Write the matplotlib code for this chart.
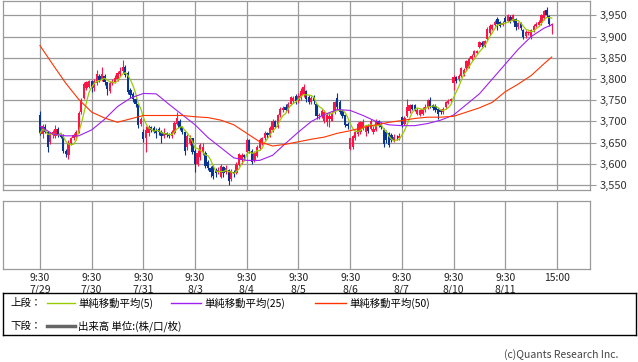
import numpy as np
import pandas as pd
import matplotlib
matplotlib.use("Agg")
import matplotlib.pyplot as plt
from matplotlib.ticker import FuncFormatter

plt.rcParams['font.family'] = ['Noto Sans CJK JP', 'DejaVu Sans']

# 15-minute candles, 20 per session, 7/29 9:30 .. 8/11 15:00
opens = [
    3715, 3670, 3688, 3676, 3652, 3668, 3665, 3683, 3668, 3668, 3630, 3620, 3648, 3660, 3664, 3676, 3722, 3755, 3780, 3782,
    3795, 3778, 3790, 3808, 3800, 3808, 3792, 3772, 3790, 3794, 3800, 3812, 3818, 3828, 3815, 3775, 3765, 3752, 3740, 3695,
    3675, 3660, 3672, 3688, 3684, 3680, 3682, 3676, 3665, 3672, 3668, 3665, 3672, 3695, 3700, 3686, 3676, 3640, 3650, 3660,
    3630, 3600, 3615, 3628, 3625, 3605, 3590, 3595, 3585, 3580, 3570, 3592, 3580, 3585, 3565, 3580, 3578, 3598, 3608, 3620,
    3628, 3655, 3630, 3610, 3618, 3638, 3650, 3660, 3672, 3668, 3680, 3700, 3688, 3714, 3728, 3735, 3725, 3742, 3748, 3760,
    3748, 3755, 3762, 3772, 3758, 3745, 3758, 3740, 3712, 3712, 3700, 3698, 3705, 3702, 3722, 3755, 3745, 3725, 3714, 3694,
    3636, 3640, 3660, 3670, 3675, 3683, 3675, 3692, 3683, 3675, 3680, 3700, 3692, 3680, 3675, 3672, 3668, 3656, 3662, 3660,
    3710, 3695, 3712, 3724, 3738, 3738, 3718, 3715, 3718, 3726, 3734, 3750, 3738, 3736, 3730, 3727, 3722, 3734, 3744, 3748,
    3790, 3805, 3800, 3808, 3812, 3825, 3828, 3848, 3856, 3862, 3876, 3886, 3878, 3895, 3908, 3918, 3928, 3942, 3934, 3928,
    3945, 3938, 3946, 3938, 3942, 3922, 3932, 3915, 3902, 3908, 3898, 3915, 3925, 3928, 3932, 3945, 3962, 3948, 3928,
]
highs = [
    3725, 3693, 3695, 3678, 3676, 3680, 3692, 3686, 3672, 3670, 3636, 3655, 3664, 3672, 3680, 3724, 3755, 3792, 3795, 3798,
    3798, 3800, 3822, 3812, 3828, 3812, 3794, 3795, 3800, 3810, 3820, 3828, 3844, 3832, 3818, 3780, 3770, 3755, 3742, 3710,
    3682, 3690, 3692, 3690, 3690, 3685, 3688, 3680, 3685, 3676, 3672, 3680, 3700, 3722, 3705, 3690, 3678, 3670, 3668, 3662,
    3636, 3632, 3650, 3648, 3630, 3610, 3595, 3598, 3590, 3592, 3600, 3596, 3598, 3588, 3588, 3586, 3605, 3626, 3626, 3624,
    3660, 3658, 3635, 3630, 3645, 3660, 3664, 3678, 3676, 3690, 3706, 3704, 3718, 3734, 3736, 3740, 3746, 3760, 3760, 3764,
    3766, 3778, 3788, 3775, 3762, 3760, 3762, 3742, 3720, 3730, 3728, 3720, 3720, 3725, 3748, 3766, 3750, 3728, 3716, 3698,
    3662, 3668, 3680, 3698, 3702, 3705, 3692, 3695, 3705, 3690, 3705, 3704, 3698, 3684, 3680, 3675, 3672, 3670, 3668, 3672,
    3712, 3712, 3752, 3742, 3742, 3741, 3732, 3730, 3734, 3740, 3754, 3758, 3742, 3740, 3732, 3730, 3734, 3748, 3752, 3756,
    3810, 3808, 3812, 3828, 3826, 3846, 3852, 3858, 3868, 3868, 3890, 3890, 3893, 3922, 3930, 3930, 3940, 3946, 3936, 3936,
    3948, 3953, 3950, 3954, 3945, 3935, 3935, 3918, 3915, 3914, 3918, 3930, 3934, 3940, 3954, 3964, 3971, 3952, 3932,
]
lows = [
    3668, 3662, 3672, 3628, 3646, 3662, 3662, 3664, 3660, 3625, 3617, 3612, 3644, 3655, 3660, 3672, 3718, 3752, 3775, 3778,
    3770, 3772, 3786, 3792, 3795, 3785, 3762, 3768, 3785, 3790, 3795, 3808, 3815, 3805, 3765, 3756, 3745, 3735, 3685, 3690,
    3652, 3628, 3665, 3675, 3672, 3662, 3668, 3648, 3662, 3663, 3660, 3662, 3670, 3692, 3680, 3670, 3620, 3632, 3645, 3622,
    3580, 3595, 3610, 3620, 3590, 3585, 3570, 3565, 3570, 3575, 3566, 3570, 3575, 3550, 3560, 3570, 3575, 3595, 3600, 3610,
    3625, 3625, 3600, 3605, 3615, 3632, 3645, 3656, 3662, 3664, 3676, 3684, 3685, 3710, 3722, 3722, 3720, 3738, 3744, 3742,
    3744, 3750, 3758, 3746, 3740, 3740, 3740, 3706, 3705, 3708, 3696, 3690, 3688, 3700, 3718, 3730, 3718, 3708, 3688, 3682,
    3632, 3636, 3655, 3666, 3670, 3680, 3665, 3672, 3680, 3670, 3678, 3688, 3682, 3640, 3650, 3640, 3652, 3652, 3655, 3656,
    3688, 3692, 3710, 3720, 3726, 3724, 3714, 3712, 3715, 3722, 3730, 3732, 3728, 3722, 3705, 3718, 3718, 3730, 3740, 3744,
    3773, 3790, 3795, 3805, 3808, 3822, 3825, 3845, 3852, 3860, 3873, 3876, 3875, 3892, 3905, 3915, 3925, 3916, 3922, 3925,
    3932, 3935, 3932, 3935, 3916, 3918, 3916, 3895, 3898, 3904, 3895, 3912, 3922, 3925, 3928, 3940, 3946, 3926, 3907,
]
closes = [
    3672, 3690, 3676, 3640, 3672, 3675, 3683, 3668, 3664, 3630, 3622, 3650, 3660, 3668, 3676, 3720, 3750, 3788, 3792, 3795,
    3778, 3795, 3812, 3798, 3812, 3792, 3776, 3790, 3794, 3802, 3815, 3820, 3828, 3810, 3770, 3762, 3752, 3740, 3692, 3705,
    3658, 3680, 3688, 3680, 3676, 3672, 3674, 3665, 3672, 3668, 3665, 3675, 3696, 3708, 3685, 3676, 3630, 3666, 3662, 3628,
    3600, 3625, 3645, 3640, 3595, 3590, 3580, 3572, 3578, 3585, 3595, 3578, 3590, 3560, 3582, 3576, 3600, 3622, 3620, 3615,
    3655, 3630, 3605, 3625, 3640, 3655, 3660, 3672, 3668, 3685, 3702, 3688, 3715, 3730, 3732, 3727, 3742, 3757, 3755, 3748,
    3760, 3772, 3782, 3752, 3745, 3755, 3748, 3712, 3715, 3725, 3722, 3715, 3712, 3720, 3745, 3735, 3722, 3712, 3692, 3690,
    3660, 3665, 3675, 3693, 3698, 3698, 3688, 3677, 3700, 3682, 3700, 3692, 3688, 3646, 3656, 3645, 3656, 3664, 3660, 3665,
    3692, 3708, 3735, 3738, 3730, 3728, 3728, 3726, 3730, 3735, 3750, 3735, 3732, 3727, 3718, 3722, 3730, 3745, 3748, 3752,
    3805, 3795, 3808, 3825, 3822, 3843, 3848, 3855, 3866, 3866, 3887, 3880, 3890, 3918, 3926, 3928, 3935, 3930, 3926, 3932,
    3935, 3950, 3936, 3950, 3922, 3932, 3920, 3900, 3912, 3912, 3915, 3925, 3930, 3935, 3950, 3960, 3950, 3930, 3929,
]

ma_idx = [0, 5, 10, 15, 20, 25, 30, 35, 40, 45, 50, 55, 60, 65, 70, 75, 80, 85, 90, 95,
          100, 105, 110, 115, 120, 125, 130, 135, 140, 145, 150, 155, 160, 165, 170, 175, 180, 185, 190, 195, 198]
ma25 = [3689, 3670, 3666, 3666, 3680, 3705, 3735, 3755, 3766, 3765, 3740, 3716, 3692, 3662, 3638, 3614, 3608, 3608, 3620, 3648,
        3675, 3700, 3716, 3728, 3726, 3714, 3700, 3692, 3690, 3690, 3695, 3703, 3715, 3740, 3765, 3800, 3835, 3870, 3900, 3920, 3928]
ma50 = [3879, 3834, 3790, 3752, 3722, 3708, 3698, 3706, 3714, 3714, 3714, 3714, 3711, 3709, 3703, 3692, 3672, 3652, 3642, 3646,
        3652, 3658, 3663, 3672, 3678, 3686, 3692, 3698, 3702, 3707, 3710, 3710, 3712, 3722, 3732, 3745, 3770, 3788, 3808, 3836, 3852]

tick_idx = [0, 20, 40, 60, 80, 100, 120, 140, 160, 180, 200]
tick_times = ["9:30"] * 10 + ["15:00"]
tick_dates = ["7/29", "7/30", "7/31", "8/3", "8/4", "8/5", "8/6", "8/7", "8/10", "8/11", ""]

RED = "#ff1446"
BLUE = "#083594"
GRID = "#9a9a9a"

o = np.array(opens); h = np.array(highs); l = np.array(lows); c = np.array(closes)
x = np.arange(len(c))
ma5 = pd.Series(c).rolling(5, min_periods=1).mean()

W, H = 638, 362
fig = plt.figure(figsize=(W / 100, H / 100), dpi=100)

xlim = (-14.3, 212.8)

# --- upper panel: price ---
ax = fig.add_axes([3 / W, 1 - 190 / H, 587 / W, 189.5 / H])
cols = np.where(c >= o, RED, BLUE)
ax.vlines(x, l, h, colors=cols, lw=0.8, zorder=2)
ax.bar(x, np.maximum(np.abs(c - o), 1.0), bottom=np.minimum(o, c), width=0.88,
       color=cols, linewidth=0, zorder=3)
ax.plot(x, ma5, color="#99cc00", lw=0.9, zorder=4)
ax.plot(ma_idx, ma25, color="#a020f0", lw=0.8, zorder=4)
ax.plot(ma_idx, ma50, color="#ff3300", lw=0.8, zorder=4)

ax.set_xlim(*xlim)
ax.set_ylim(3538.2, 3985.3)
ax.set_xticks(tick_idx)
ax.set_xticklabels([])
ax.set_yticks(range(3550, 3951, 50))
ax.yaxis.set_major_formatter(FuncFormatter(lambda v, p: f"{int(v):,}"))
ax.yaxis.tick_right()
ax.tick_params(axis="y", direction="out", length=4, width=0.8, color=GRID, pad=3,
               labelsize=8, labelcolor="#333333")
ax.tick_params(axis="x", length=0)
ax.grid(True, color=GRID, lw=0.9)
ax.set_axisbelow(True)
for s in ax.spines.values():
    s.set_color(GRID)
    s.set_linewidth(0.9)

# --- lower panel: volume (empty) ---
ax2 = fig.add_axes([3 / W, 1 - 269 / H, 587 / W, 68 / H])
ax2.set_xlim(*xlim)
ax2.set_ylim(0, 1)
ax2.set_yticks([])
ax2.set_xticks(tick_idx)
ax2.set_xticklabels([f"{t}\n{d}" for t, d in zip(tick_times, tick_dates)],
                    fontsize=7.5, color="#222222", linespacing=1.15)
ax2.tick_params(axis="x", length=0, pad=3)
ax2.grid(True, axis="x", color=GRID, lw=0.9)
for s in ax2.spines.values():
    s.set_color(GRID)
    s.set_linewidth(0.9)

# --- legend box ---
lg = fig.add_axes([3 / W, 1 - 335 / H, 633 / W, 42 / H])
lg.set_xlim(0, 633)
lg.set_ylim(42, 0)
lg.set_xticks([])
lg.set_yticks([])
for s in lg.spines.values():
    s.set_color("black")
    s.set_linewidth(1.0)

fs = 7.5
lg.text(7, 10, "上段：", fontsize=fs, va="center")
lg.plot([44, 72], [10, 10], color="#99cc00", lw=1)
lg.text(75, 10, "単純移動平均(5)", fontsize=fs, va="center")
lg.plot([168, 198], [10, 10], color="#a020f0", lw=1)
lg.text(201, 10, "単純移動平均(25)", fontsize=fs, va="center")
lg.plot([312, 343], [10, 10], color="#ff3300", lw=1)
lg.text(346, 10, "単純移動平均(50)", fontsize=fs, va="center")
lg.text(7, 33, "下段：", fontsize=fs, va="center")
lg.plot([44, 72], [33, 33], color="#666666", lw=2.5)
lg.text(75, 33, "出来高 単位:(株/口/枚)", fontsize=fs, va="center")

fig.text(618 / W, 1 - 355 / H, "(c)Quants Research Inc.", ha="right", va="center",
         fontsize=7.5, color="#444444")

fig.savefig("out.png", dpi=100)
